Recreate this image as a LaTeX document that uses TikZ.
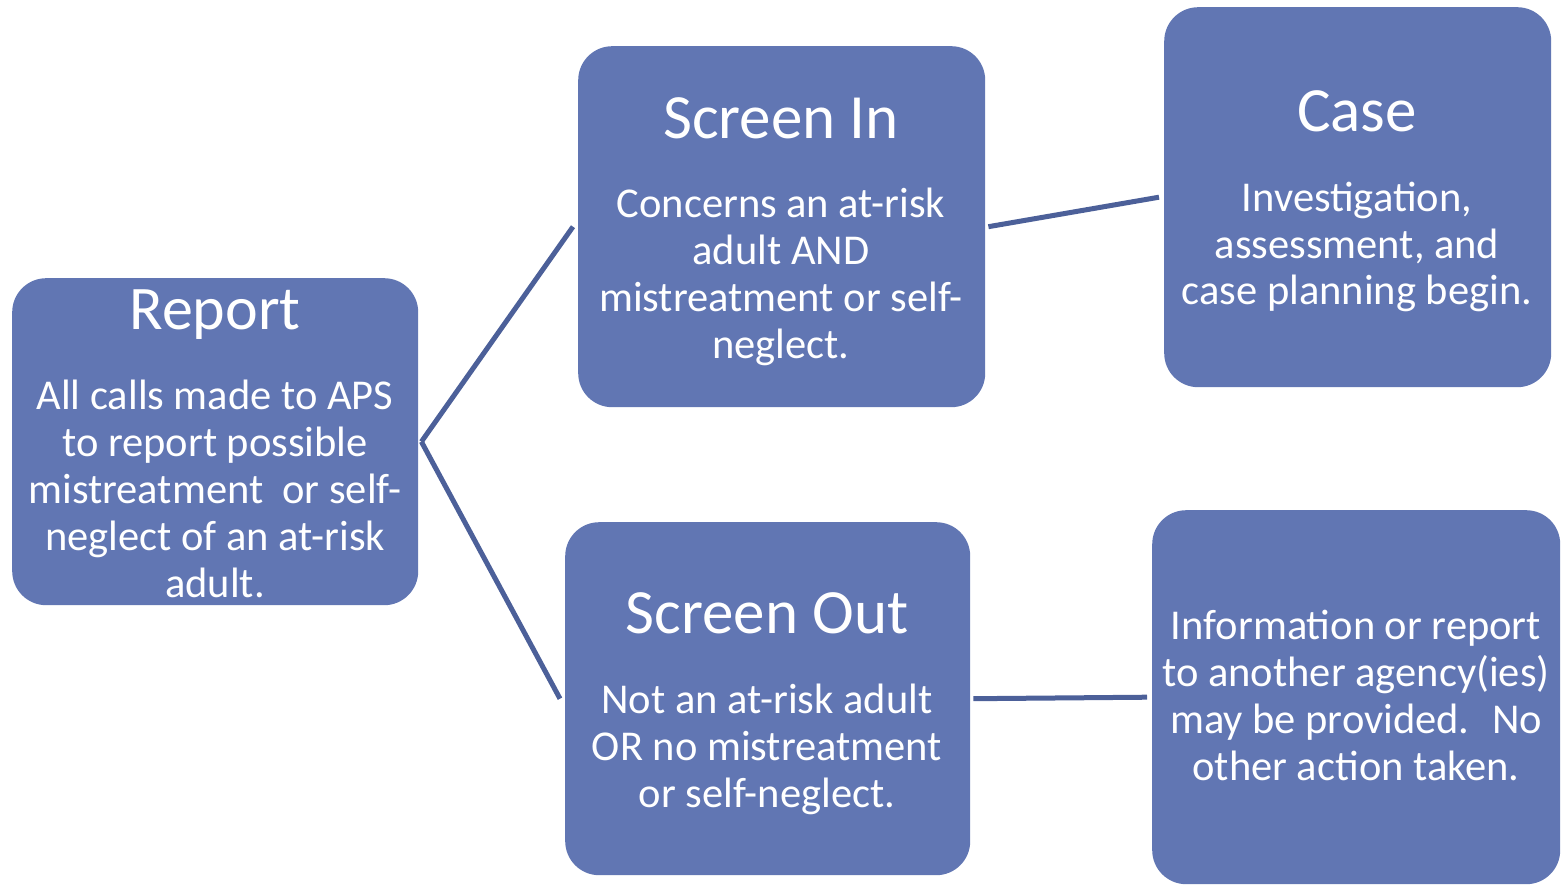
\documentclass[tikz,border=0pt]{standalone}
\usepackage{fontspec}
\setmainfont{Carlito}
\definecolor{boxfill}{HTML}{6176B3}
\definecolor{linkcol}{HTML}{4C6099}
\begin{document}
\begin{tikzpicture}[x=1pt,y=-1pt,
  box/.style={draw=none,fill=boxfill,rounded corners=34pt,anchor=north west,inner sep=0pt},
  ttl/.style={anchor=base,text=white,font=\fontsize{63}{70}\selectfont,inner sep=0pt},
  body/.style={anchor=base,text=white,align=center,font=\fontsize{42.5}{46.8}\selectfont,inner sep=0pt},
  link/.style={draw=linkcol,line width=5pt}]
\useasboundingbox (0,0) rectangle (1568,885);

% boxes
\node[box,minimum width=406pt,minimum height=327pt] (report) at (12,278) {};
\node[box,minimum width=407pt,minimum height=361pt] (screenin) at (578,46) {};
\node[box,minimum width=387pt,minimum height=380pt] (case) at (1164,7) {};
\node[box,minimum width=405pt,minimum height=353pt] (screenout) at (565,522) {};
\node[box,minimum width=408pt,minimum height=374pt] (info) at (1152,510) {};

% texts (a multi-line node sits on the baseline of its last line)
\node[ttl,font=\fontsize{62}{68}\selectfont] (reportT) at (215,329) {Report};
\node[body] (reportB) at (215,597) {All calls made to APS\\to report possible\\mistreatment~ or self-\\neglect of an at-risk\\adult.};

\node[ttl] (screeninT) at (781,139) {Screen In};
\node[body] (screeninB) at (781,358) {Concerns an at-risk\\adult AND\\mistreatment or self-\\neglect.};

\node[ttl] (caseT) at (1357,132) {Case};
\node[body] (caseB) at (1357,305) {Investigation,\\assessment, and\\case planning begin.};

\node[ttl] (screenoutT) at (767,633) {Screen Out};
\node[body] (screenoutB) at (767,807) {Not an at-risk adult\\OR no mistreatment\\or self-neglect.};

\node[body] (infoB) at (1356,780) {Information or report\\to another agency(ies)\\may be provided.~ No\\other action taken.};

% connectors
\draw[link] ([xshift=3pt]report.east) -- ([xshift=-5pt]screenin.west);
\draw[link] ([xshift=3pt]report.east) -- ([xshift=-5pt]screenout.west);
\draw[link] ([xshift=3pt]screenin.east) -- ([xshift=-5pt]case.west);
\draw[link] ([xshift=3pt]screenout.east) -- ([xshift=-5pt]info.west);
\end{tikzpicture}
\end{document}
